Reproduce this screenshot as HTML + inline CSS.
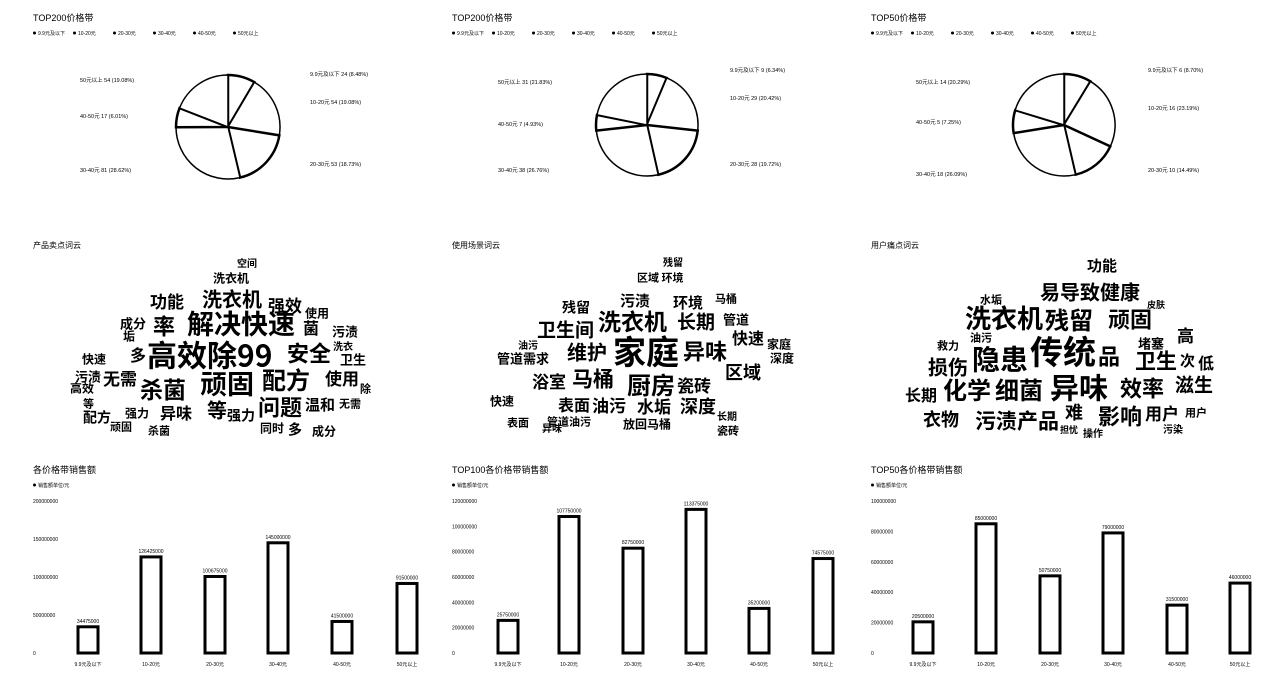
<!DOCTYPE html>
<html><head><meta charset="utf-8"><style>
html,body{margin:0;padding:0;background:#fff;}
svg{display:block;font-family:"Liberation Sans","Noto Sans CJK SC",sans-serif;}
</style></head><body>
<svg id="s" width="1280" height="682" viewBox="0 0 1280 682"></svg>
<script>
const NS="http://www.w3.org/2000/svg";
const svg=document.getElementById('s');
function mk(tag,attrs,parent){const e=document.createElementNS(NS,tag);for(const k in attrs)e.setAttribute(k,attrs[k]);(parent||svg).appendChild(e);return e;}
function txt(x,y,s,size,opt,parent){const t=mk('text',Object.assign({x:x,y:y,'font-size':size,fill:'#000'},opt||{}),parent);t.textContent=s;return t;}

// ---------- PIE DATA ----------
const pieCats=['9.9元及以下','10-20元','20-30元','30-40元','40-50元','50元以上'];
const pie1Values=[24,54,53,81,17,54];
const pie2Values=[9,29,28,38,7,31];
const pie3Values=[6,16,10,18,5,14];
const pieTitles=['TOP200价格带','TOP200价格带','TOP50价格带'];

// ---------- BAR DATA ----------
const barCats=['9.9元及以下','10-20元','20-30元','30-40元','40-50元','50元以上'];
const bar1Values=[34475000,126425000,100675000,145000000,41500000,91500000];
const bar2Values=[25750000,107750000,82750000,113375000,35200000,74575000];
const bar3Values=[20500000,85000000,50750000,79000000,31500000,46000000];
const bar1Ticks=[0,50000000,100000000,150000000,200000000];
const bar2Ticks=[0,20000000,40000000,60000000,80000000,100000000,120000000];
const bar3Ticks=[0,20000000,40000000,60000000,80000000,100000000];
const barTitles=['各价格带销售额','TOP100各价格带销售额','TOP50各价格带销售额'];

// ---------- WORD CLOUD DATA ----------
const cloudTitles=['产品卖点词云','使用场景词云','用户痛点词云'];
const cloud1Words=[['高效除99',147,340,30],['安全',287,342,22],['解决快速',187,310,27],['顽固',200,370,27],['配方',262,368,24],['杀菌',140,378,23],['洗衣机',202,289,20],['功能',150,293,17],['强效',268,297,17],['率',153,315,22],['成分',120,317,13],['多',130,347,16],['无需',103,370,17],['使用',325,370,17],['卫生',340,353,13],['污渍',332,325,13],['菌',303,320,16],['问题',258,396,22],['温和',305,397,15],['无需',339,398,11],['等',207,400,20],['强力',227,408,14],['异味',160,405,16],['强力',125,407,12],['配方',83,410,14],['顽固',110,421,11],['杀菌',148,425,11],['同时',260,422,12],['多',288,422,14],['成分',312,425,12],['快速',82,353,12],['污渍',75,370,13],['高效',70,382,12],['等',83,398,11],['除',360,383,11],['使用',305,307,12],['洗衣机',213,272,12],['空间',237,258,10],['垢',123,330,12],['洗衣',333,341,10]];
const cloud2Words=[['家庭',613,335,33],['异味',683,340,22],['厨房',627,373,24],['洗衣机',598,310,23],['卫生间',537,320,19],['维护',567,342,20],['马桶',572,368,21],['浴室',532,373,17],['表面',558,397,16],['油污',592,397,17],['水垢',637,398,17],['深度',680,397,18],['瓷砖',677,377,17],['区域',725,363,18],['快速',732,330,16],['长期',677,312,19],['环境',673,295,15],['污渍',620,293,15],['残留',562,300,14],['管道',723,313,13],['马桶',715,293,11],['管道需求',497,352,13],['快速',490,395,12],['家庭',767,338,12],['深度',770,352,12],['区域 环境',637,272,11],['残留',663,257,10],['表面',507,417,11],['放回马桶',623,418,12],['瓷砖',717,425,11],['长期',717,411,10],['油污',518,340,10],['异味',542,423,10],['管道油污',547,416,11]];
const cloud3Words=[['传统',1030,335,33],['隐患',972,345,28],['洗衣机',965,305,26],['残留',1045,308,24],['顽固',1108,308,22],['异味',1050,373,29],['细菌',995,378,24],['化学',943,378,24],['长期',905,387,16],['效率',1120,377,22],['滋生',1175,375,19],['用户',1145,405,17],['影响',1098,405,22],['污渍产品',975,410,21],['难',1065,403,18],['衣物',923,410,18],['易导致健康',1040,282,20],['卫生',1135,350,21],['损伤',928,357,20],['次',1180,353,15],['低',1198,355,16],['高',1177,327,17],['堵塞',1138,337,13],['品',1098,345,22],['功能',1087,258,15],['水垢',980,294,11],['救力',937,340,11],['油污',970,332,11],['皮肤',1147,300,9],['操作',1083,428,10],['担忧',1060,425,9],['污染',1163,424,10],['用户',1185,407,11]];

// ---------- PIES ----------
const pieLayouts=[{x0:33,cx:228,cy:127,r:52,lx:80,rx:310},{x0:452,cx:647,cy:125,r:51,lx:498,rx:730},{x0:871,cx:1064,cy:125,r:51,lx:916,rx:1148}];
const pieVals=[pie1Values,pie2Values,pie3Values];
const pieLabelY=[[76,104,166,172,118,82],[72,100,166,172,126,84],[72,110,172,176,124,84]];
pieLayouts.forEach((L,pi)=>{
  const g=mk('g',{});
  
  
  const t=txt(L.x0,21,pieTitles[pi],9,{},g);
  
  
  let lx=L.x0;
  pieCats.forEach((c,i)=>{
    const lg=mk('g',{},g);
    
    
    mk('circle',{cx:lx+1.5,cy:33,r:1.5,fill:'#000'},lg);
    txt(lx+5,35,c,5,{},lg);
    lx+=c.length>5?40:35;
  });
  const vals=pieVals[pi];const tot=vals.reduce((a,b)=>a+b,0);
  let a=-Math.PI/2;
  vals.forEach((v,i)=>{
    const a2=a+v/tot*2*Math.PI;
    const x1=L.cx+L.r*Math.cos(a),y1=L.cy+L.r*Math.sin(a);
    const x2=L.cx+L.r*Math.cos(a2),y2=L.cy+L.r*Math.sin(a2);
    const big=(a2-a)>Math.PI?1:0;
    const p=mk('path',{d:`M${L.cx},${L.cy}L${x1},${y1}A${L.r},${L.r} 0 ${big} 1 ${x2},${y2}Z`,fill:'#fff',stroke:'#000','stroke-width':(i%2===0?2.5:1.5),'stroke-linejoin':'miter'},g);
    
    
    const mid=(a+a2)/2;const right=Math.cos(mid)>=0;
    const lab=txt(right?L.rx:L.lx,pieLabelY[pi][i],`${pieCats[i]} ${v} (${(v/tot*100).toFixed(2)}%)`,5.5,{},g);
    
    
    a=a2;
  });
});

// ---------- WORD CLOUDS ----------
const clouds=[cloud1Words,cloud2Words,cloud3Words];
[33,452,871].forEach((x0,ci)=>{
  const g=mk('g',{});
  
  
  const t=txt(x0,248,cloudTitles[ci],8,{},g);
  
  
  clouds[ci].forEach(w=>{
    const e=txt(w[1],w[2]+w[3]*0.88,w[0],w[3],{'font-weight':'bold','font-family':'"Noto Sans CJK SC",sans-serif'},g);
    
    
  });
});

// ---------- BARS ----------
const barVals=[bar1Values,bar2Values,bar3Values];
const barTicks=[bar1Ticks,bar2Ticks,bar3Ticks];
const barX0=[33,452,871];
const barCenters=[[88,151,215,278,342,407],[508,569,633,696,759,823],[923,986,1050,1113,1177,1240]];
const y0=653,yTop=501;
barVals.forEach((vals,bi)=>{
  const g=mk('g',{});
  
  
  const x0=barX0[bi];
  const t=txt(x0,473,barTitles[bi],9,{},g);
  
  
  mk('circle',{cx:x0+1.5,cy:485,r:1.5,fill:'#000'},g);
  const lt=txt(x0+5,487,'销售额单位/元',5,{},g);
  
  
  const ticks=barTicks[bi];const max=ticks[ticks.length-1];
  const yS=v=>y0-(v/max)*(y0-yTop);
  ticks.forEach(tv=>{
    const tk=txt(x0,yS(tv)+2,String(tv),5,{},g);
    
    
  });
  vals.forEach((v,i)=>{
    const cx=barCenters[bi][i];const y=yS(v);
    const r=mk('rect',{x:cx-10,y:y,width:20,height:y0-y,fill:'#fff',stroke:'#000','stroke-width':3},g);
    
    
    const vl=txt(cx,y-4,String(v),5,{'text-anchor':'middle'},g);
    
    
    const xl=txt(cx,666,barCats[i],5,{'text-anchor':'middle'},g);
    
    
  });
});
</script>
</body></html>
